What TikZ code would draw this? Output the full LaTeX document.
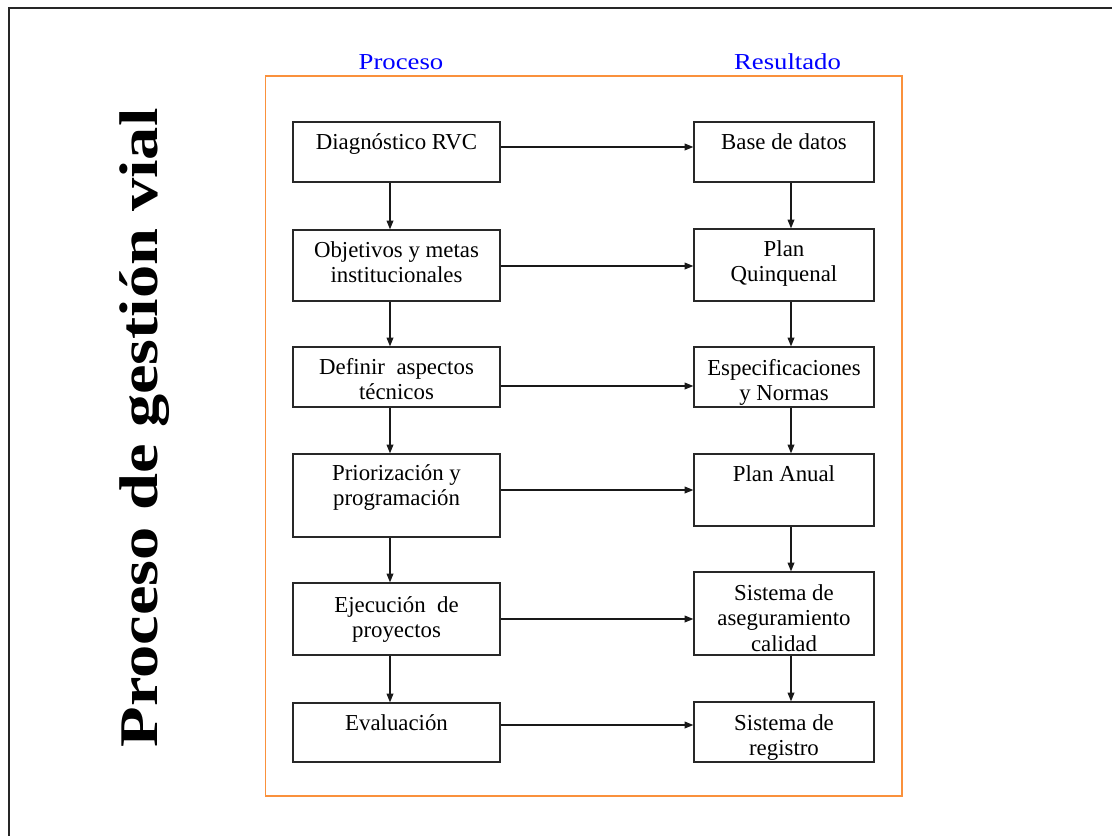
\documentclass[tikz,border=0pt]{standalone}
\usepackage{fontspec}
\setmainfont{Liberation Serif}
\newfontfamily\titlefont[FakeStretch=1.22]{Liberation Serif}
\newfontfamily\widefont[FakeStretch=1.17]{Liberation Serif}
\usetikzlibrary{arrows.meta}
\definecolor{frameorange}{RGB}{250,145,60}
\definecolor{boxline}{RGB}{40,40,40}
\definecolor{lblblue}{RGB}{0,0,255}
\begin{document}
\begin{tikzpicture}[x=0.02cm,y=-0.02cm,
  lbox/.style={draw=boxline, line width=0.75pt, inner sep=0pt, minimum width=207*0.02cm},
  rbox/.style={draw=boxline, line width=0.75pt, inner sep=0pt, minimum width=180*0.02cm},
  txt/.style={anchor=north, align=center, inner sep=0pt, font=\fontsize{13}{14.5}\selectfont},
  lbl/.style={anchor=base, inner sep=0pt, text=lblblue, font=\widefont\fontsize{13}{14.5}\selectfont},
  arr/.style={draw=black!90, line width=0.6pt, -{Triangle[length=5pt,width=3.9pt]}}
]
\useasboundingbox (0,0) rectangle (1112,835);
% outer frame (cut off at right and bottom)
\draw[line width=0.9pt, black!85] (9,840) -- (9,8) -- (1115,8);
% orange frame
\draw[frameorange, line width=0.8pt] (265.5,76) rectangle (902,796);
% title
\node[anchor=base, rotate=90, inner sep=0pt, font=\titlefont\fontsize{31}{36}\selectfont\bfseries] (title) at (157,428) {Proceso de gestión vial};
% column headers
\node[lbl] (hp) at (401,69) {Proceso};
\node[lbl] (hr) at (787.5,69) {Resultado};
% left boxes
\node[lbox, minimum height=60*0.02cm] (L1) at (396.5,152) {};
\node[lbox, minimum height=71*0.02cm] (L2) at (396.5,265.5) {};
\node[lbox, minimum height=60*0.02cm] (L3) at (396.5,377) {};
\node[lbox, minimum height=83*0.02cm] (L4) at (396.5,495.5) {};
\node[lbox, minimum height=72*0.02cm] (L5) at (396.5,619) {};
\node[lbox, minimum height=59*0.02cm] (L6) at (396.5,732.5) {};
% right boxes
\node[rbox, minimum height=60*0.02cm] (R1) at (784,152) {};
\node[rbox, minimum height=72*0.02cm] (R2) at (784,265) {};
\node[rbox, minimum height=60*0.02cm] (R3) at (784,377) {};
\node[rbox, minimum height=72*0.02cm] (R4) at (784,490) {};
\node[rbox, minimum height=83*0.02cm] (R5) at (784,613.5) {};
\node[rbox, minimum height=60*0.02cm] (R6) at (784,732) {};
% texts
\node[txt] (tL1) at (396.5,131) {\strut Diagnóstico RVC};
\node[txt] (tL2) at (396.5,239) {\strut Objetivos y metas\\institucionales};
\node[txt] (tL3) at (396.5,356) {\strut Definir\ \ aspectos\\técnicos};
\node[txt] (tL4) at (396.5,462) {\strut Priorización y\\programación};
\node[txt] (tL5) at (396.5,594) {\strut Ejecución\ \ de\\proyectos};
\node[txt] (tL6) at (396.5,712) {\strut Evaluación};
\node[txt] (tR1) at (784,131) {\strut Base de datos};
\node[txt] (tR2) at (784,238) {\strut Plan\\Quinquenal};
\node[txt] (tR3) at (784,357) {\strut Especificaciones\\y Normas};
\node[txt] (tR4) at (784,463) {\strut Plan Anual};
\node[txt] (tR5) at (784,582) {\strut Sistema de\\aseguramiento\\calidad};
\node[txt] (tR6) at (784,712) {\strut Sistema de\\registro};
% horizontal arrows
\draw[arr] (L1.east |- 0,147) -- (R1.west |- 0,147);
\draw[arr] (L2.east |- 0,266) -- (R2.west |- 0,266);
\draw[arr] (L3.east |- 0,386) -- (R3.west |- 0,386);
\draw[arr] (L4.east |- 0,490) -- (R4.west |- 0,490);
\draw[arr] (L5.east |- 0,619) -- (R5.west |- 0,619);
\draw[arr] (L6.east |- 0,725) -- (R6.west |- 0,725);
% vertical arrows left
\draw[arr] (390,0 |- L1.south) -- (390,0 |- L2.north);
\draw[arr] (390,0 |- L2.south) -- (390,0 |- L3.north);
\draw[arr] (390,0 |- L3.south) -- (390,0 |- L4.north);
\draw[arr] (390,0 |- L4.south) -- (390,0 |- L5.north);
\draw[arr] (390,0 |- L5.south) -- (390,0 |- L6.north);
% vertical arrows right
\draw[arr] (791,0 |- R1.south) -- (791,0 |- R2.north);
\draw[arr] (791,0 |- R2.south) -- (791,0 |- R3.north);
\draw[arr] (791,0 |- R3.south) -- (791,0 |- R4.north);
\draw[arr] (791,0 |- R4.south) -- (791,0 |- R5.north);
\draw[arr] (791,0 |- R5.south) -- (791,0 |- R6.north);
\end{tikzpicture}
\end{document}
